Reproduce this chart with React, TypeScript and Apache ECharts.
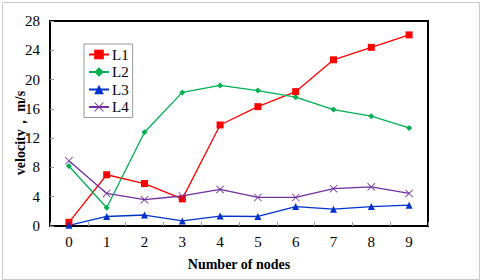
import React, { useEffect, useRef } from "react";
import * as echarts from "echarts";

const categories = ["0", "1", "2", "3", "4", "5", "6", "7", "8", "9"];
const L1 = [0.5, 7.0, 5.8, 3.7, 13.8, 16.3, 18.35, 22.7, 24.4, 26.1];
const L2 = [8.2, 2.5, 12.8, 18.25, 19.2, 18.5, 17.6, 15.9, 15.0, 13.4];
const L3 = [0.1, 1.3, 1.5, 0.7, 1.35, 1.3, 2.65, 2.3, 2.65, 2.85];
const L4 = [8.9, 4.45, 3.6, 4.1, 5.0, 3.9, 3.9, 5.1, 5.35, 4.45];

const SERIF = "Liberation Serif";
const CROSS = "path://M0,0.7L0.7,0L5,4.3L9.3,0L10,0.7L5.7,5L10,9.3L9.3,10L5,5.7L0.7,10L0,9.3L4.3,5Z";

export default function App() {
  const ref = useRef<HTMLDivElement>(null);
  useEffect(() => {
    if (!ref.current) return;
    const chart = echarts.init(ref.current, undefined, { renderer: "svg" });
    const mk = (name: string, data: number[], color: string, symbol: string, size: number) => ({
      name,
      type: "line",
      data,
      symbol,
      symbolSize: size,
      showAllSymbol: true,
      lineStyle: { color, width: 1.3 },
      itemStyle: { color },
    });
    chart.setOption({
      animation: false,
      backgroundColor: "#ffffff",
      textStyle: { fontFamily: SERIF },
      grid: {
        left: 50,
        right: 52,
        top: 21,
        bottom: 54,
        show: true,
        borderColor: "#000",
        borderWidth: 2,
      },
      legend: {
        orient: "vertical",
        left: 84,
        top: 44,
        padding: [3, 4, 3, 4],
        itemGap: 2.5,
        itemWidth: 20,
        itemHeight: 12,
        borderColor: "#999",
        borderWidth: 1,
        textStyle: { fontFamily: SERIF, fontSize: 15, color: "#000", lineHeight: 14, padding: [0, 0, 0, -2] },
        data: ["L1", "L2", "L3", "L4"],
      },
      xAxis: {
        type: "category",
        data: categories,
        boundaryGap: true,
        name: "Number of nodes",
        nameLocation: "middle",
        nameGap: 31,
        nameTextStyle: { fontFamily: SERIF, fontSize: 14, fontWeight: "bold", color: "#000" },
        axisLine: { show: true, lineStyle: { color: "#000", width: 2 } },
        axisTick: { show: true, inside: true, length: 4, lineStyle: { color: "#999" } },
        axisLabel: { fontFamily: SERIF, fontSize: 15, color: "#000", margin: 8 },
        splitLine: { show: false },
      },
      yAxis: {
        type: "value",
        min: 0,
        max: 28,
        interval: 4,
        axisLine: { show: true, lineStyle: { color: "#000", width: 2 } },
        axisTick: { show: true, inside: true, length: 4, lineStyle: { color: "#999" } },
        axisLabel: { fontFamily: SERIF, fontSize: 15, color: "#000", margin: 10 },
        splitLine: { show: false },
      },
      graphic: [
        {
          type: "rect",
          left: 0,
          top: 0,
          shape: { x: 0.5, y: 0.5, width: 477, height: 277 },
          style: { fill: "none", stroke: "#c8c8c8", lineWidth: 1 },
          silent: true,
        },
        {
          type: "text",
          x: 20,
          y: 133,
          rotation: Math.PI / 2,
          style: {
            text: "velocity， m/s",
            fontFamily: SERIF,
            fontSize: 14,
            fontWeight: "bold",
            fill: "#000",
            align: "center",
            verticalAlign: "middle",
          },
        },
      ],
      series: [
        mk("L1", L1, "#ff0000", "rect", 7),
        mk("L2", L2, "#00b050", "diamond", 6),
        mk("L3", L3, "#0033cc", "triangle", 7),
        mk("L4", L4, "#7030a0", CROSS, 8),
      ],
    });
    return () => chart.dispose();
  }, []);
  return (
    <div
      ref={ref}
      style={{ position: "fixed", left: 0, top: 0, width: 480, height: 280 }}
    />
  );
}
